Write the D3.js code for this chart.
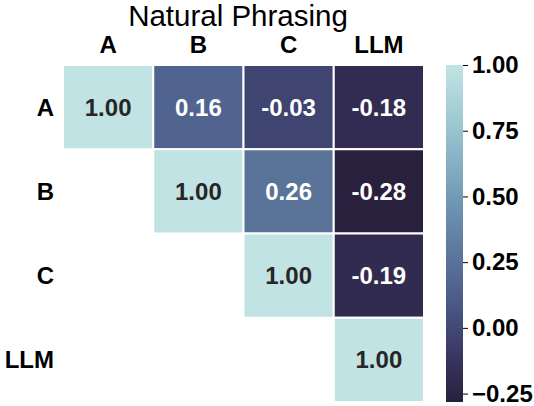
<!DOCTYPE html>
<html>
<head>
<meta charset="utf-8">
<script src="https://cdn.jsdelivr.net/npm/d3@7"></script>
<style>
  html, body { margin: 0; padding: 0; background: #fff; }
  svg { display: block; }
  text { font-family: "Liberation Sans", Arial, Helvetica, sans-serif; }
</style>
</head>
<body>
<svg id="chart" width="534" height="406"></svg>
<script>
// ---- data ----
const title = "Natural Phrasing";
const rowLabels = ["A", "B", "C", "LLM"];
const colLabels = ["A", "B", "C", "LLM"];
// upper triangle correlation values (null = masked)
const rowA = [1.00, 0.16, -0.03, -0.18];
const rowB = [null, 1.00, 0.26, -0.28];
const rowC = [null, null, 1.00, -0.19];
const rowLLM = [null, null, null, 1.00];
const matrix = [rowA, rowB, rowC, rowLLM];
const colorTicks = [1.00, 0.75, 0.50, 0.25, 0.00, -0.25];
const vmin = -0.282, vmax = 1.00;

// ---- layout ----
const svg = d3.select("#chart");
const hm = { x0: 63, x1: 424, y0: 65, y1: 402 };
const cb = { x0: 446, x1: 463, y0: 65, y1: 402 };

const x = d3.scaleBand().domain(colLabels).range([hm.x0, hm.x1]);
const y = d3.scaleBand().domain(rowLabels).range([hm.y0, hm.y1]);

const stops = ["#28203d", "#342f57", "#3f4571", "#526590", "#5d799d", "#7198b5", "#97c3cf", "#c2e3e3"];
const stopT = [0, 0.1, 0.2, 0.35, 0.45, 0.6, 0.8, 1];
const tScale = d3.scaleLinear().domain(stopT).range(stops).interpolate(d3.interpolateRgb).clamp(true);
const color = v => tScale((v - vmin) / (vmax - vmin));

const cells = [];
matrix.forEach((row, i) => row.forEach((v, j) => {
  if (v !== null) cells.push({ r: rowLabels[i], c: colLabels[j], v });
}));

svg.append("g").selectAll("rect").data(cells).join("rect")
  .attr("x", d => x(d.c))
  .attr("y", d => y(d.r))
  .attr("width", x.bandwidth())
  .attr("height", y.bandwidth())
  .attr("fill", d => color(d.v))
  .attr("stroke", "#fff")
  .attr("stroke-width", 2);

svg.append("g").selectAll("text").data(cells).join("text")
  .attr("x", d => x(d.c) + x.bandwidth() / 2)
  .attr("y", d => y(d.r) + y.bandwidth() / 2)
  .attr("text-anchor", "middle")
  .attr("dominant-baseline", "central")
  .attr("font-size", 24)
  .attr("font-weight", "bold")
  .attr("fill", d => d.v > 0.6 ? "#262626" : "#ffffff")
  .text(d => d.v.toFixed(2));

// column labels (top)
svg.append("g").selectAll("text").data(colLabels).join("text")
  .attr("x", d => x(d) + x.bandwidth() / 2)
  .attr("y", 53)
  .attr("text-anchor", "middle")
  .attr("font-size", 24)
  .attr("font-weight", "bold")
  .attr("fill", "#000")
  .text(d => d);

// row labels
svg.append("g").selectAll("text").data(rowLabels).join("text")
  .attr("x", 54)
  .attr("y", d => y(d) + y.bandwidth() / 2)
  .attr("text-anchor", "end")
  .attr("dominant-baseline", "central")
  .attr("font-size", 24)
  .attr("font-weight", "bold")
  .attr("fill", "#000")
  .text(d => d);

// title
svg.append("text")
  .attr("x", 238)
  .attr("y", 26)
  .attr("text-anchor", "middle")
  .attr("font-size", 29.5)
  .attr("fill", "#000")
  .text(title);

// colorbar
const defs = svg.append("defs");
const grad = defs.append("linearGradient").attr("id", "cbgrad")
  .attr("x1", 0).attr("y1", 1).attr("x2", 0).attr("y2", 0);
d3.range(0, 1.0001, 0.05).forEach(t => {
  grad.append("stop").attr("offset", t).attr("stop-color", tScale(t));
});
svg.append("rect")
  .attr("x", cb.x0).attr("y", cb.y0)
  .attr("width", cb.x1 - cb.x0).attr("height", cb.y1 - cb.y0)
  .attr("fill", "url(#cbgrad)");

const cy = d3.scaleLinear().domain([vmin, vmax]).range([cb.y1, cb.y0]);
const cAxis = d3.axisRight(cy).tickValues(colorTicks).tickSize(5).tickPadding(4)
  .tickFormat(d => d3.format(".2f")(d).replace("-", "\u2212"));
const ag = svg.append("g").attr("transform", `translate(${cb.x1},0)`).call(cAxis);
ag.select(".domain").remove();
ag.selectAll(".tick line").attr("stroke", "#000").attr("stroke-width", 1);
ag.selectAll(".tick text")
  .attr("font-size", 24)
  .attr("font-weight", "bold")
  .attr("fill", "#000")
  .attr("font-family", "'Liberation Sans', Arial, sans-serif");
</script>
</body>
</html>
